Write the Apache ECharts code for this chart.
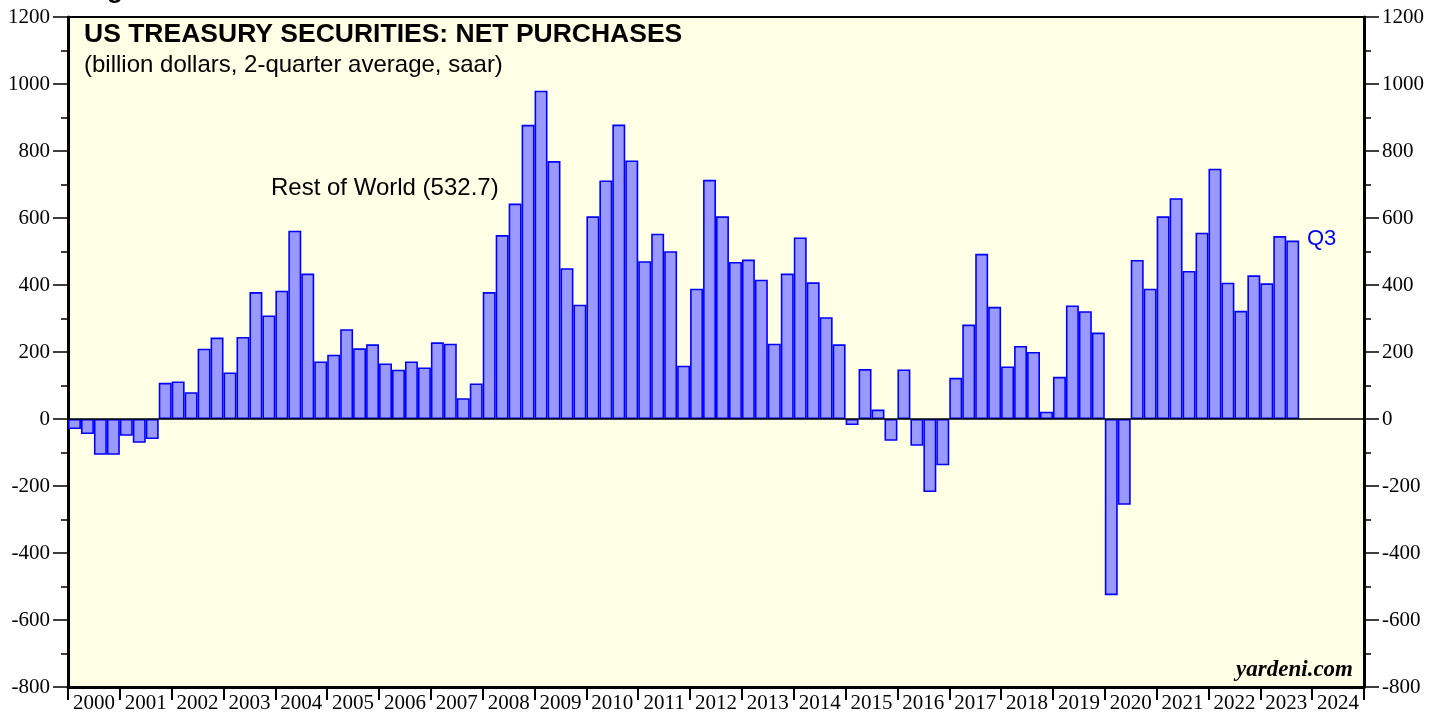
<!DOCTYPE html>
<html>
<head>
<meta charset="utf-8">
<title>US Treasury Securities: Net Purchases</title>
<script src="https://cdn.jsdelivr.net/npm/echarts@6/dist/echarts.min.js"></script>
<style>
    html, body { margin: 0; padding: 0; background: #fff; }
    #chart { width: 1446px; height: 717px; }
</style>
</head>
<body>
<div id="chart"></div>
<script>
    // 年份标签 2000-2024
    var years = [];
    for (var y = 2000; y <= 2024; y++) years.push(String(y));

    // 季度分类 (每年4个)
    var quarters = [];
    years.forEach(function (yr) {
        for (var q = 1; q <= 4; q++) quarters.push(yr + 'Q' + q);
    });

    // Rest of World, billion dollars, 2-quarter average, saar (2000Q1 - 2023Q3)
    var restOfWorld = [
        -30, -45, -107, -107,
        -50, -71, -60, 108,
        112, 80, 210, 243,
        139, 245, 379, 309,
        383, 562, 434, 172,
        192, 268, 211, 223,
        166, 147, 172, 154,
        229, 225, 62, 106,
        379, 549, 643, 878,
        980, 770, 450, 341,
        605, 712, 879, 772,
        471, 553, 501, 159,
        389, 714, 605, 469,
        476, 416, 225, 434,
        542, 408, 304, 223,
        -18, 149, 28, -65,
        148, -80, -218, -138,
        123, 282, 493, 335,
        157, 218, 200, 22,
        126, 339, 322, 258,
        -526, -256, 475, 389,
        605, 659, 442, 556,
        747, 407, 323, 429,
        405, 546, 532.7
    ];

    var yTicks = { min: -800, max: 1200, interval: 200 };

    var serif = '"Liberation Serif", "DejaVu Serif", serif';
    var sans = '"Liberation Sans", Arial, sans-serif';

    var yAxisBase = function (pos) {
        return {
            type: 'value',
            position: pos,
            min: yTicks.min,
            max: yTicks.max,
            interval: yTicks.interval,
            axisLine: { show: true, lineStyle: { color: '#000', width: 3 } },
            axisTick: { show: true, inside: false, length: 15, lineStyle: { color: '#000', width: 1.5 } },
            minorTick: { show: true, splitNumber: 2, length: 7, lineStyle: { color: '#000', width: 1.5 } },
            axisLabel: {
                color: '#000', fontFamily: serif, fontSize: 21, margin: 18,
                formatter: function (v) { return String(v); } // 不要千分位
            },
            splitLine: { show: false },
            minorSplitLine: { show: false }
        };
    };

    var option = {
        animation: false,
        grid: {
            left: 68,
            right: 82,
            top: 17,
            bottom: 30,
            show: true,
            backgroundColor: '#ffffe6',
            borderColor: '#000',
            borderWidth: 2
        },
        xAxis: [{
            type: 'category',
            data: quarters,
            position: 'bottom',
            axisLine: { show: false },
            axisTick: { show: false },
            axisLabel: { show: false },
            splitLine: { show: false }
        }, {
            type: 'category',
            data: years,
            position: 'bottom',
            boundaryGap: true,
            axisLine: { show: true, onZero: false, lineStyle: { color: '#000', width: 3 } },
            axisTick: { show: true, interval: 0, length: 13, lineStyle: { color: '#000', width: 2 } },
            axisLabel: { interval: 0, color: '#000', fontFamily: serif, fontSize: 21, margin: 6 },
            splitLine: { show: false }
        }],
        yAxis: [yAxisBase('left'), yAxisBase('right')],
        series: [{
            name: 'Rest of World',
            type: 'bar',
            xAxisIndex: 0,
            yAxisIndex: 0,
            data: restOfWorld,
            barCategoryGap: '0%',
            itemStyle: { color: '#9999ff', borderColor: '#0000ff', borderWidth: 1.6 },
            markLine: {
                silent: true,
                symbol: 'none',
                label: { show: false },
                lineStyle: { color: '#000', width: 1.5, type: 'solid' },
                data: [{ yAxis: 0 }]
            }
        }],
        graphic: [
            { type: 'text', left: 84, top: -22, style: { text: 'Figure', font: 'bold 26px ' + sans, fill: '#000' } },
            { type: 'text', left: 84, top: 21, style: { text: 'US TREASURY SECURITIES: NET PURCHASES', font: 'bold 26.5px ' + sans, fill: '#000' } },
            { type: 'text', left: 84, top: 53, style: { text: '(billion dollars, 2-quarter average, saar)', font: '24px ' + sans, fill: '#000' } },
            { type: 'text', left: 271, top: 176, style: { text: 'Rest of World (532.7)', font: '24px ' + sans, fill: '#000' } },
            { type: 'text', left: 1307, top: 228, style: { text: 'Q3', font: '22px ' + sans, fill: '#0000ff' } },
            { type: 'text', right: 93, top: 659, style: { text: 'yardeni.com', font: 'italic bold 23px ' + serif, fill: '#000' } }
        ]
    };

    var chart = echarts.init(document.getElementById('chart'));
    chart.setOption(option);
</script>
</body>
</html>
